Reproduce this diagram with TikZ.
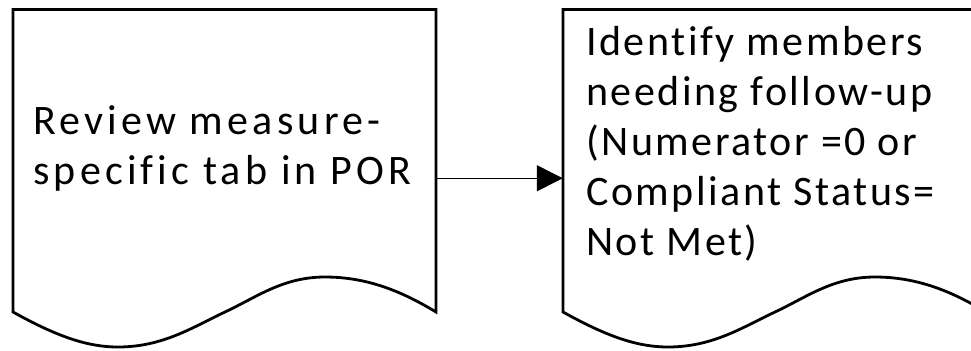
\documentclass[tikz,border=0pt]{standalone}
\usepackage{fontspec}
\setmainfont[LetterSpace=6, Ligatures=NoCommon]{Carlito}
\newfontfamily\widefont[LetterSpace=10, Ligatures=NoCommon]{Carlito}
\usepackage{tikz}
\usetikzlibrary{positioning}
\usetikzlibrary{fit}
\usetikzlibrary{arrows.meta}
\newcommand\docshape[2]{
  \draw[line width=2.8bp, line join=miter] (#1,312) -- (#1,9.5) -- ++(423,0) -- ++(0,302.5)
    .. controls ++(-33,-20) and ++(43,0) .. ++(-111,-35)
    .. controls ++(-42,0) and ++(32,-15) .. ++(-100,35)
    .. controls ++(-32,15) and ++(45,0) .. ++(-107,35)
    .. controls ++(-30,0) and ++(45,25) .. cycle;
  \coordinate (#2-tl) at (#1,9.5);
  \coordinate (#2-br) at ({#1+423},347);
  \node[fit=(#2-tl)(#2-br), inner sep=0pt] (#2) {};
}

\begin{document}
\begin{tikzpicture}[x=1bp, y=-1bp, font=\fontsize{42bp}{50bp}\selectfont]
	\useasboundingbox (0,0) rectangle (971,350);
	\clip (0,0) rectangle (971,350);
	\docshape{13}{review}
	\docshape{563}{ident}
	\node[anchor=north west, align=left, inner sep=0pt, font=\fontsize{42bp}{50bp}\widefont] (reviewtxt) at (33,105) {Review measure-\\specific tab in POR};
	\node[anchor=north west, align=left, inner sep=0pt] (identtxt) at (586,26) {Identify members\\needing follow-up\\(Numerator =0 or\\Compliant Status=\\Not Met)};
	\draw[line width=1.2bp, -{Triangle[length=26bp, width=26bp]}] (review.east) -- (ident.west);
\end{tikzpicture}
\end{document}
